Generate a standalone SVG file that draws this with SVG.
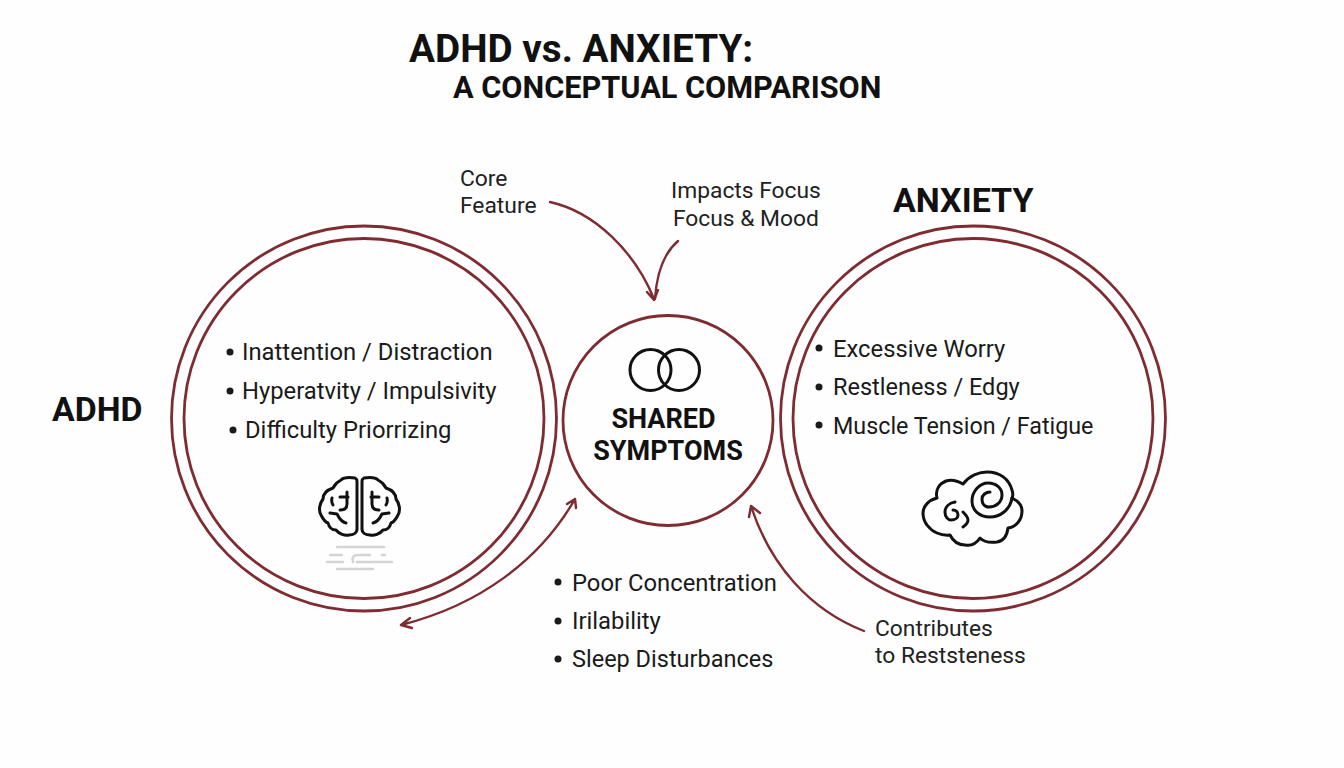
<svg xmlns="http://www.w3.org/2000/svg" width="1344" height="768" viewBox="0 0 1344 768">
<style>
text{font-family:Roboto,"Liberation Sans",sans-serif;fill:#111}
.b{font-size:23.8px;fill:#1a1a1a}
.b2{font-size:23.5px;fill:#1a1a1a}
.b3{font-size:23.3px;fill:#1a1a1a}
.l{font-size:22.8px;fill:#222}
.h{font-weight:700}
.r{fill:none;stroke:#7f2b32;stroke-width:2.8}
.c{fill:none;stroke:#7f2b32;stroke-width:2.4;stroke-linecap:round;stroke-linejoin:round}
.i{fill:none;stroke:#111;stroke-width:3;stroke-linecap:round;stroke-linejoin:round}
.g{fill:none;stroke:#d4d4d4;stroke-width:2.4;stroke-linecap:round}
.d{fill:#1a1a1a}
</style>
<rect width="1344" height="768" fill="#fefefe"/>
<g id="title">
<text class="h" x="409" y="62" font-size="38.7">ADHD vs. ANXIETY:</text>
<text class="h" x="453" y="98" font-size="30.7" fill="#1a1a1a">A CONCEPTUAL COMPARISON</text>
</g>
<g id="adhd">
<circle class="r" cx="364" cy="418.500" r="192.500"/>
<circle class="r" cx="364" cy="418.500" r="180"/>
<text class="h" x="52" y="421" font-size="33.8">ADHD</text>
<circle class="d" cx="230" cy="352" r="3.500"/><text class="b" x="242" y="360">Inattention / Distraction</text>
<circle class="d" cx="230" cy="391" r="3.500"/><text class="b" x="242" y="399">Hyperatvity / Impulsivity</text>
<circle class="d" cx="233" cy="430" r="3.500"/><text class="b" x="245" y="438">Difficulty Priorrizing</text>
<g id="brain-icon">
<path class="i" d="M355 478C348 477 344 477 341 480C337 482 335 484 333 488C327 490 323 494 323 499C320 503 318 510 321 515C323 519 325 522 328 523C329 527 332 530 336 530C339 534 345 536 349 535C353 535 357 533 357 529V483C357 480 357 479 355 478Z"/>
<path class="i" d="M364 478C371 477 375 477 378 480C382 482 384 484 386 488C392 490 396 494 396 499C399 503 401 510 398 515C396 519 394 522 391 523C390 527 387 530 383 530C380 534 374 536 370 535C366 535 362 533 362 529V483C362 480 362 479 364 478Z"/>
<path class="i" d="M347 492V504C347 509 344 510 340 510M340 497H348M332 498Q331 502 333 505M330 513L337 514Q341 522 346 523"/>
<path class="i" d="M372 492V504C372 509 375 510 379 510M371 497H379M387 498Q388 502 386 505M389 513L382 514Q378 522 373 523"/>
<path class="g" d="M337 547H384M330 555H342M353 562Q351 555 358 555H370M382 555H385M327 562H343M357 562H392M337 569H373"/>
</g>
</g>
<g id="anxiety">
<circle class="r" cx="973" cy="418.500" r="192.500"/>
<circle class="r" cx="973" cy="418.500" r="180"/>
<text class="h" x="893" y="212" font-size="34">ANXIETY</text>
<circle class="d" cx="819" cy="348" r="3.500"/><text class="b" x="833" y="357">Excessive Worry</text>
<circle class="d" cx="819" cy="387" r="3.500"/><text class="b2" x="833" y="395">Restleness / Edgy</text>
<circle class="d" cx="819" cy="425" r="3.500"/><text class="b3" x="833" y="434">Muscle Tension / Fatigue</text>
<g id="cloud-icon">
<path class="i" d="M963 484C970 475 980 472 987 472C1000 472 1009 479 1012 490C1013 493 1013 496 1012 498C1018 501 1022 505 1022 511C1022 520 1016 527 1008 528C1007 536 1003 541 997 542C990 543 984 542 980 538C976 544 970 546 965 545C958 545 953 541 950 535C941 536 932 532 927 525C924 521 923 517 923 513C923 506 929 500 937 498C935 490 939 484 946 481C952 479 958 481 963 484Z"/>
<path class="i" d="M1012 498C1010 510 1000 517 990 517C979 517 972 510 972 501C972 491 980 483 988 483C996 483 1002 488 1002 495C1002 502 996 507 989 507C984 507 982 503 982 499C982 495 986 492 990 492"/>
<path class="i" d="M955 502C949 503 945 507 945 512C945 517 948 520 951 520C955 520 958 518 958 515C958 512 956 510 953 510M963 512C967 516 968 519 968 520C968 523 966 525 963 527"/>
</g>
</g>
<g id="shared">
<circle class="r" cx="668" cy="420.500" r="105"/>
<g id="venn-icon"><circle class="i" cx="650.500" cy="370" r="20.500"/><circle class="i" cx="679" cy="370" r="20.500"/></g>
<text class="h" x="663.500" y="428" font-size="27" text-anchor="middle" fill="#1a1a1a">SHARED</text>
<text class="h" x="668" y="460" font-size="27" text-anchor="middle" fill="#1a1a1a">SYMPTOMS</text>
<circle class="d" cx="558" cy="582" r="3.500"/><text class="b" x="572" y="591">Poor Concentration</text>
<circle class="d" cx="558" cy="621" r="3.500"/><text class="b" x="572" y="629">Irilability</text>
<circle class="d" cx="558" cy="659" r="3.500"/><text class="b2" x="572" y="667">Sleep Disturbances</text>
</g>
<g id="connectors">
<path class="c" d="M550 202C595 212 635 252 654 299M647 292L654 300L658 290"/>
<path class="c" d="M678 241C665 252 657 270 655 299"/>
<path class="c" d="M575 499C540 560 480 605 401 625M410 618L401 625L412 628M567 504L575 499L576 508"/>
<path class="c" d="M864 631C810 610 770 565 751 506M749 517L751 506L760 513"/>
</g>
<g id="labels">
<text class="l" x="460" y="186">Core</text>
<text class="l" x="460" y="213">Feature</text>
<text class="l" x="671" y="198">Impacts Focus</text>
<text class="l" x="673" y="226">Focus &amp; Mood</text>
<text class="l" x="875" y="636">Contributes</text>
<text class="l" x="875" y="663">to Reststeness</text>
</g>
</svg>
